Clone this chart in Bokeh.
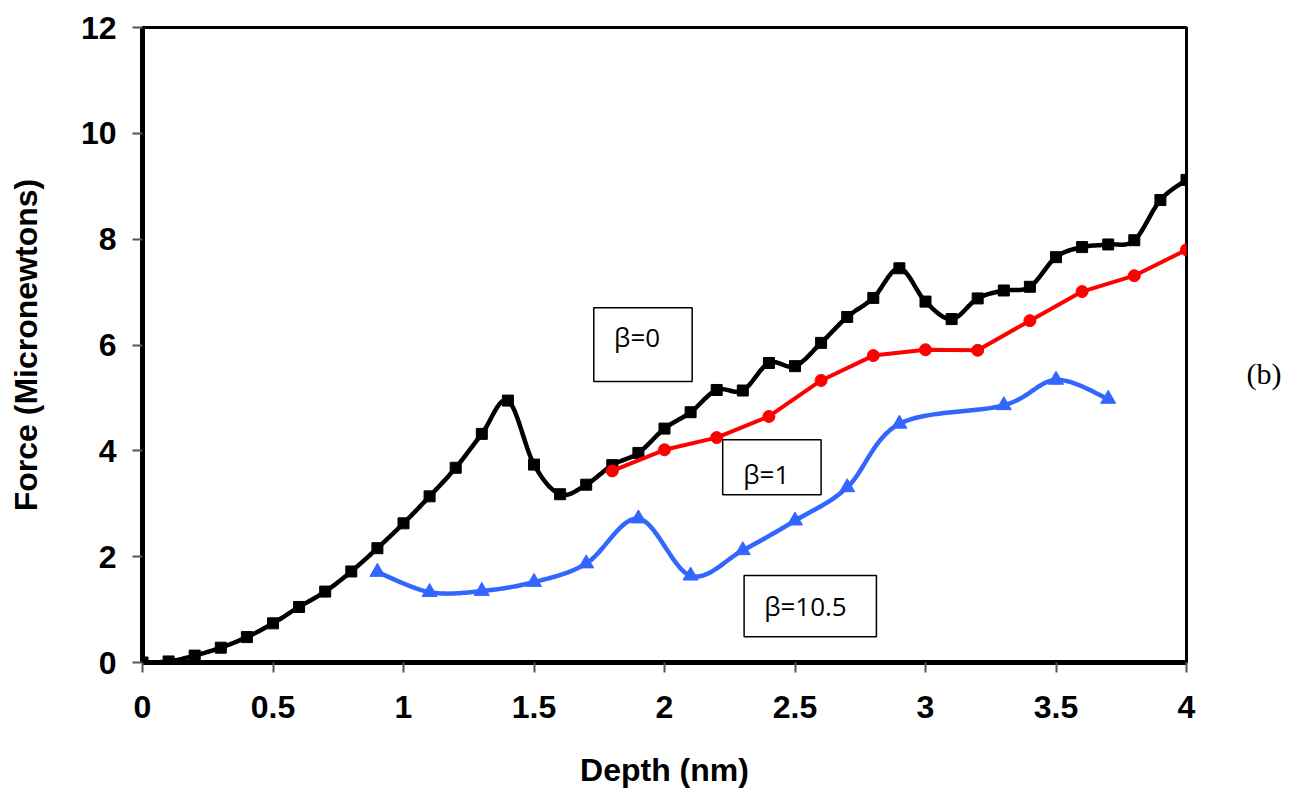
import numpy as np
from bokeh.plotting import figure
from bokeh.models import FixedTicker, Label, BoxAnnotation, Range1d, LinearAxis
from bokeh.embed import file_html
from bokeh.resources import INLINE

# ---------------- data ----------------
depth_b0 = [0.0, 0.1, 0.2, 0.3, 0.4, 0.5, 0.6, 0.7, 0.8, 0.9, 1.0, 1.1, 1.2, 1.3, 1.4,
            1.5, 1.6, 1.7, 1.8, 1.9, 2.0, 2.1, 2.2, 2.3, 2.4, 2.5, 2.6, 2.7, 2.8, 2.9,
            3.0, 3.1, 3.2, 3.3, 3.4, 3.5, 3.6, 3.7, 3.8, 3.9, 4.0]
force_b0 = [0.0, 0.02, 0.13, 0.28, 0.48, 0.74, 1.05, 1.34, 1.72, 2.16, 2.63, 3.14, 3.68, 4.32, 4.95,
            3.74, 3.18, 3.36, 3.73, 3.96, 4.42, 4.73, 5.15, 5.14, 5.66, 5.60, 6.04, 6.53, 6.89, 7.45,
            6.82, 6.49, 6.88, 7.03, 7.10, 7.66, 7.85, 7.90, 7.98, 8.74, 9.12]

depth_b1 = [1.8, 2.0, 2.2, 2.4, 2.6, 2.8, 3.0, 3.2, 3.4, 3.6, 3.8, 4.0]
force_b1 = [3.62, 4.02, 4.25, 4.65, 5.33, 5.80, 5.91, 5.90, 6.46, 7.01, 7.31, 7.80]

depth_b105 = [0.9, 1.1, 1.3, 1.5, 1.7, 1.9, 2.1, 2.3, 2.5, 2.7, 2.9, 3.3, 3.5, 3.7]
force_b105 = [1.71, 1.33, 1.35, 1.52, 1.87, 2.72, 1.64, 2.12, 2.68, 3.31, 4.51, 4.86, 5.34, 4.98]

x_ticks = [0, 0.5, 1, 1.5, 2, 2.5, 3, 3.5, 4]
x_tick_labels = ["0", "0.5", "1", "1.5", "2", "2.5", "3", "3.5", "4"]
y_ticks = [0, 2, 4, 6, 8, 10, 12]
y_tick_labels = ["0", "2", "4", "6", "8", "10", "12"]

series_labels = ["β=0", "β=1", "β=10.5"]
panel_label = "(b)"


def smooth(xs, ys, n=24):
    """Excel-like smoothed line: Catmull-Rom Bezier through the data points."""
    P = np.column_stack([xs, ys]).astype(float)
    m = len(P)
    out = []
    t = np.linspace(0, 1, n)[:, None]
    for i in range(m - 1):
        p0 = P[i - 1] if i > 0 else P[i]
        p1 = P[i]
        p2 = P[i + 1]
        p3 = P[i + 2] if i + 2 < m else P[i + 1]
        c1 = p1 + (p2 - p0) / 6.0
        c2 = p2 - (p3 - p1) / 6.0
        seg = ((1 - t) ** 3) * p1 + 3 * ((1 - t) ** 2) * t * c1 + 3 * (1 - t) * t ** 2 * c2 + t ** 3 * p2
        out.append(seg if i == 0 else seg[1:])
    arr = np.vstack(out)
    return arr[:, 0], arr[:, 1]


FONT = "Liberation Sans"
BLACK = "#000000"
RED = "#FF0000"
BLUE = "#3366FF"

p = figure(width=1302, height=794, output_backend="svg", toolbar_location=None,
           x_range=Range1d(0, 4), y_range=Range1d(0, 12),
           min_border_left=142, min_border_right=116, min_border_top=27, min_border_bottom=132)

p.background_fill_color = "white"
p.border_fill_color = "white"
p.grid.visible = False
p.outline_line_color = "black"
p.outline_line_width = 3

# axes
p.xaxis.ticker = FixedTicker(ticks=x_ticks)
p.xaxis.major_label_overrides = {float(k): v for k, v in zip(x_ticks, x_tick_labels)}
p.yaxis.ticker = FixedTicker(ticks=y_ticks)
p.yaxis.major_label_overrides = {float(k): v for k, v in zip(y_ticks, y_tick_labels)}

for ax in (p.xaxis[0], p.yaxis[0]):
    ax.axis_line_width = 5
    ax.axis_line_color = "black"
    ax.major_tick_line_color = "#555555"
    ax.major_tick_line_width = 2
    ax.major_tick_in = 0
    ax.major_tick_out = 10
    ax.minor_tick_line_color = None
    ax.major_label_text_font = FONT
    ax.major_label_text_font_style = "bold"
    ax.major_label_text_font_size = "32px"
    ax.major_label_text_color = "black"
    ax.axis_label_text_font = FONT
    ax.axis_label_text_font_style = "bold"
    ax.axis_label_text_font_size = "32px"
    ax.axis_label_text_color = "black"

p.xaxis.axis_label = "Depth (nm)"
p.yaxis.axis_label = "Force (Micronewtons)"
p.xaxis.major_label_standoff = 23
p.xaxis.axis_label_standoff = 31
p.yaxis.major_label_standoff = 16
p.yaxis.axis_label_standoff = 34

# panel label "(b)" placed at the right side, outside the frame
panel_label_y = 5.46
right_ax = LinearAxis(ticker=FixedTicker(ticks=[panel_label_y]),
                      major_label_overrides={panel_label_y: panel_label},
                      axis_line_color=None, major_tick_line_color=None, minor_tick_line_color=None,
                      major_tick_in=0, major_tick_out=0, major_label_standoff=60,
                      major_label_text_font="Liberation Serif", major_label_text_font_size="30px",
                      major_label_text_font_style="normal", major_label_text_color="black")
p.add_layout(right_ax, "right")

# series
sx, sy = smooth(depth_b0, force_b0)
p.line(sx, sy, line_color=BLACK, line_width=4.5, line_join="round")
p.scatter(depth_b0, force_b0, marker="square", size=11, fill_color=BLACK, line_color=BLACK)

p.line(depth_b1, force_b1, line_color=RED, line_width=4, line_join="round")
p.scatter(depth_b1, force_b1, marker="circle", size=12, fill_color=RED, line_color=RED)

bx, by = smooth(depth_b105, force_b105)
p.line(bx, by, line_color=BLUE, line_width=4.5, line_join="round")
p.scatter(depth_b105, force_b105, marker="triangle", size=15, fill_color=BLUE, line_color=BLUE)

# annotation boxes with labels
boxes = [
    (1.729, 2.106, 6.703, 5.310, 1.895, 6.147),
    (2.223, 2.600, 4.210, 3.169, 2.390, 3.566),
    (2.305, 2.812, 1.644, 0.488, 2.540, 1.077),
]
for (l, r, t, b, tx, ty), txt in zip(boxes, series_labels):
    p.add_layout(BoxAnnotation(left=l, right=r, top=t, bottom=b,
                               fill_color="white", fill_alpha=1.0,
                               line_color="black", line_width=1.5, line_alpha=1.0))
    p.add_layout(Label(x=tx, y=ty, text=txt, text_align="center", text_baseline="middle",
                       text_font="Open Sans", text_font_size="26px", text_color="black"))

open("out.html", "w").write(file_html(p, INLINE))
